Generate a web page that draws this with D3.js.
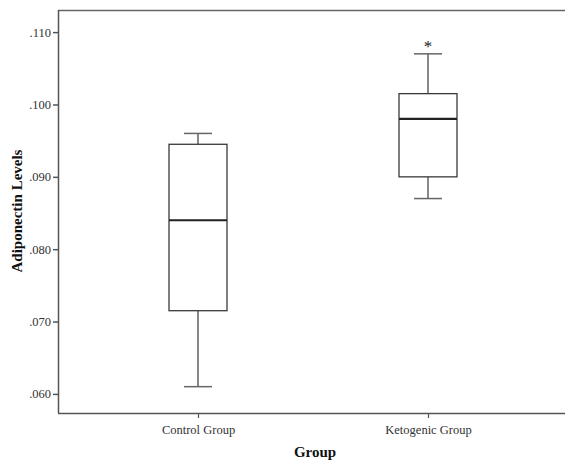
<!DOCTYPE html>
<html>
<head>
<meta charset="utf-8">
<script src="https://cdn.jsdelivr.net/npm/d3@7"></script>
<style>
  body { margin: 0; background: #fff; }
  svg { display: block; }
</style>
</head>
<body>
<svg id="chart" width="565" height="462"></svg>
<script>
const categories = ["Control Group", "Ketogenic Group"];
const whiskerLow = [0.061, 0.087];
const q1 = [0.0715, 0.090];
const median = [0.084, 0.098];
const q3 = [0.0945, 0.1015];
const whiskerHigh = [0.096, 0.107];
const extremes = [[], [0.1087]];
const yTicks = [0.060, 0.070, 0.080, 0.090, 0.100, 0.110];
const yTickLabels = [".060", ".070", ".080", ".090", ".100", ".110"];
const xTitle = "Group";
const yTitle = "Adiponectin Levels";

const svg = d3.select("#chart");
const W = 565, H = 462;
const m = { left: 58, top: 10, right: 0, bottom: 49 };
const plotBottom = H - m.bottom;

const y = d3.scaleLinear().domain([0.05736, 0.11306]).range([plotBottom, m.top]);
const x = d3.scalePoint().domain(categories).range([198, 428]);

const font = "'Liberation Serif', 'Times New Roman', serif";
const axisColor = "#555";
const lineColor = "#3a3a3a";

// top frame line
svg.append("line").attr("x1", m.left).attr("x2", W).attr("y1", m.top + 0.5).attr("y2", m.top + 0.5)
  .attr("stroke", "#666").attr("stroke-width", 1.5);

// y axis
const yAxis = svg.append("g").attr("transform", `translate(${m.left},0)`)
  .call(d3.axisLeft(y).tickValues(yTicks).tickFormat((d, i) => yTickLabels[i]).tickSize(5).tickPadding(2).tickSizeOuter(0));
yAxis.select(".domain").attr("stroke", axisColor).attr("stroke-width", 1.5)
  .attr("d", `M0.5,${m.top}V${plotBottom}`);
yAxis.selectAll(".tick line").attr("stroke", axisColor).attr("stroke-width", 1.5);
yAxis.selectAll(".tick text").attr("font-family", font).attr("font-size", 12.5).attr("fill", "#333");

// x axis
const xAxis = svg.append("g").attr("transform", `translate(0,${plotBottom})`)
  .call(d3.axisBottom(x).tickSize(5).tickPadding(7).tickSizeOuter(0));
xAxis.select(".domain").attr("stroke", axisColor).attr("stroke-width", 1.5)
  .attr("d", `M${m.left},0.5H${W}`);
xAxis.selectAll(".tick line").attr("stroke", axisColor).attr("stroke-width", 1.2);
xAxis.selectAll(".tick text").attr("font-family", font).attr("font-size", 12.5).attr("fill", "#333");

// boxes
const boxW = 58, capW = 28;
categories.forEach((c, i) => {
  const cx = x(c);
  const g = svg.append("g");
  g.append("line").attr("x1", cx).attr("x2", cx).attr("y1", y(q3[i])).attr("y2", y(whiskerHigh[i]))
    .attr("stroke", lineColor).attr("stroke-width", 1.2);
  g.append("line").attr("x1", cx).attr("x2", cx).attr("y1", y(q1[i])).attr("y2", y(whiskerLow[i]))
    .attr("stroke", lineColor).attr("stroke-width", 1.2);
  g.append("line").attr("x1", cx - capW / 2).attr("x2", cx + capW / 2).attr("y1", y(whiskerHigh[i])).attr("y2", y(whiskerHigh[i]))
    .attr("stroke", "#666").attr("stroke-width", 1.5);
  g.append("line").attr("x1", cx - capW / 2).attr("x2", cx + capW / 2).attr("y1", y(whiskerLow[i])).attr("y2", y(whiskerLow[i]))
    .attr("stroke", "#666").attr("stroke-width", 1.5);
  g.append("rect").attr("x", cx - boxW / 2).attr("y", y(q3[i])).attr("width", boxW).attr("height", y(q1[i]) - y(q3[i]))
    .attr("fill", "#fff").attr("stroke", lineColor).attr("stroke-width", 1.3);
  g.append("line").attr("x1", cx - boxW / 2).attr("x2", cx + boxW / 2).attr("y1", y(median[i])).attr("y2", y(median[i]))
    .attr("stroke", "#222").attr("stroke-width", 2.2);
  extremes[i].forEach(v => {
    g.append("text").attr("x", cx).attr("y", y(v) + 10).attr("text-anchor", "middle")
      .attr("font-family", font).attr("font-size", 17).attr("fill", "#222").text("*");
  });
});

// titles
svg.append("text").attr("x", 315).attr("y", 457).attr("text-anchor", "middle")
  .attr("font-family", font).attr("font-weight", "bold").attr("font-size", 15).attr("fill", "#111").text(xTitle);
svg.append("text").attr("transform", "translate(22,211) rotate(-90)").attr("text-anchor", "middle")
  .attr("font-family", font).attr("font-weight", "bold").attr("font-size", 15).attr("fill", "#111").text(yTitle);
</script>
</body>
</html>
